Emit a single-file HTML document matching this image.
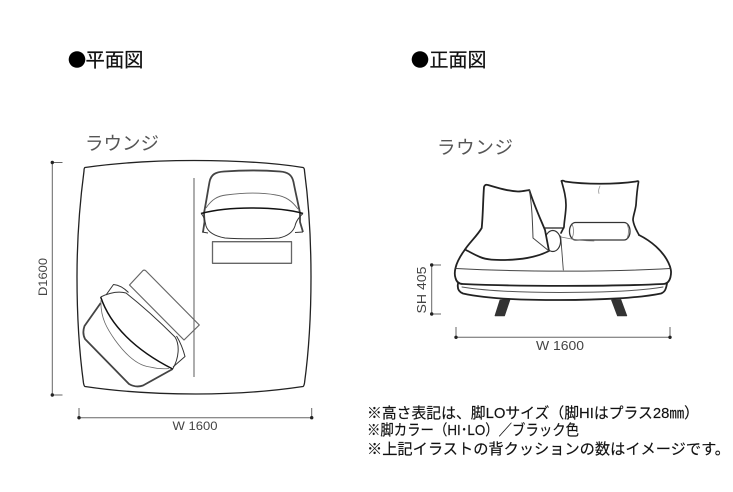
<!DOCTYPE html>
<html lang="ja"><head><meta charset="utf-8">
<style>
html,body{margin:0;padding:0;background:#fff;width:733px;height:492px;overflow:hidden}
svg{display:block;filter:blur(0.35px)}
text{font-family:"Liberation Sans","Noto Sans CJK JP",sans-serif}
</style></head><body>
<svg width="733" height="492" viewBox="0 0 733 492" xmlns="http://www.w3.org/2000/svg">
<!-- headings -->
<circle cx="77" cy="59.5" r="8.3" fill="#000"/>
<text x="85.5" y="66.5" font-size="19.5" fill="#111" stroke="#111" stroke-width="0.25" textLength="58" lengthAdjust="spacingAndGlyphs">平面図</text>
<circle cx="420" cy="59.5" r="8.3" fill="#000"/>
<text x="429.5" y="66.5" font-size="19.5" fill="#111" stroke="#111" stroke-width="0.25" textLength="57" lengthAdjust="spacingAndGlyphs">正面図</text>
<text x="85" y="150" font-size="18.5" fill="#555" textLength="74" lengthAdjust="spacing">ラウンジ</text>
<text x="437" y="154" font-size="18.5" fill="#555" textLength="76" lengthAdjust="spacing">ラウンジ</text>

<!-- plan: table -->
<g fill="none" stroke="#222" stroke-width="1.3" stroke-linejoin="round">
<path d="M85 167.5 C120 162.5 160 160.5 194 160.5 C235 160.5 275 163 303 167.5 Q304.5 168 304.5 171 C309 205 311 240 311 277 C311 315 309 350 304.5 383 Q304 386 303 386.5 C270 391.5 235 394 196 394 C155 394 115 391 85 386.5 Q84 386 83.5 383 C79 350 77 315 77 277 C77 240 79.5 205 84 171 Q84 168 85 167.5Z"/>
</g>
<line x1="194" y1="178" x2="194" y2="377" stroke="#777" stroke-width="1.2"/>

<!-- plan: top chair -->
<g fill="none" stroke="#333" stroke-linejoin="round">
<path d="M203 232 L204.5 222 L204 213 C206 203 208 190 209.5 182 C211 174 216 172 224 171.5 C245 170 262 170 280 171.5 C288 172 292 175 293.5 182 C295 190 298 203 300 213 L300 222 L303 232" stroke-width="1.8" stroke="#444"/>
<path d="M206 208 C212 199 218 196 226 195 C245 192.5 262 192.5 276 195 C286 196.5 292 201 298 209" stroke="#666" stroke-width="0.9"/>
<path d="M201 213.5 C218 209 235 208 251 208 C270 208 288 209 303 213.5" stroke="#111" stroke-width="1.5"/>
<path d="M201 213.5 C204 216 205 221 206 226 C208 232 214 236 225 238 C240 239 265 239 279 238 C288 236 293 232 295 226 C296 221 300 216 303 213.5" stroke-width="1"/>
<path d="M202 232 L208 233 M303 232 L295 232.5" stroke-width="1"/>
<rect x="212.5" y="241.7" width="79" height="21.6" stroke="#666" stroke-width="1.3"/>
</g>

<!-- plan: rotated chair -->
<g fill="none" stroke="#333" stroke-linejoin="round">
<path d="M129.5 285 L143 270.5 Q144.5 269.5 146 271 L199.3 325 L184 340 Z" stroke="#666" stroke-width="1.2"/>
<path d="M100.7 303 L84.5 326 Q82 333 85 339 L129 384 Q136 388 143 385.5 L172.7 369" stroke="#444" stroke-width="1.8"/>
<path d="M100.7 297 C110 325 135 350 172.7 369" stroke="#111" stroke-width="1.5"/>
<path d="M100.7 297 C109 293 118 291 126 293 C145 308 160 322 175 337 C180 345 179 358 172.7 369" stroke-width="1"/>
<path d="M106 295 L113.5 284.5 C119 285 124 288 128.5 292.5" stroke-width="1"/>
<path d="M176.5 336 Q182 345 185 356.5 L173 367" stroke-width="1"/>
<path d="M101 300 C100 318 108 330 115 340 C128 358 140 366 150 367 C158 369 164 369 169 368.5" stroke="#666" stroke-width="0.8"/>
</g>

<!-- plan dimensions -->
<g fill="none" stroke="#666" stroke-width="1">
<path d="M52.3 162.5 V395 M52.3 162.5 H62.5 M52.3 395 H62.5"/>
<path d="M79 417.7 H311.7 M79 408 V417.7 M311.7 408 V417.7"/>
</g>
<g fill="#222"><circle cx="52.3" cy="162.5" r="1.7"/><circle cx="52.3" cy="395" r="1.7"/><circle cx="79" cy="417.7" r="1.7"/><circle cx="311.7" cy="417.7" r="1.7"/></g>
<text x="195" y="430" font-size="12" fill="#444" text-anchor="middle" textLength="45" lengthAdjust="spacingAndGlyphs">W 1600</text>
<text transform="translate(47 277) rotate(-90)" font-size="12" fill="#444" text-anchor="middle" textLength="38" lengthAdjust="spacingAndGlyphs">D1600</text>

<!-- front view -->
<g fill="none" stroke="#222" stroke-linejoin="round" stroke-linecap="round">
<!-- legs -->
<path d="M500 300 L510 299.5 L504.5 315.8 L495 315.8Z" fill="#333" stroke="#333" stroke-width="0.8"/>
<path d="M611.5 300 L620.8 299.5 L626.8 315.8 L617.5 315.8Z" fill="#333" stroke="#333" stroke-width="0.8"/>
<!-- base -->
<path d="M458 283.5 C457 289 459 292 463 293.5 C490 299.5 530 300 560 300 C600 300 640 298 661 293.5 C665 292 666 289 667 283.5" stroke-width="1.8" fill="#fff"/>
<path d="M462 287 C490 291.5 530 292.5 560 292.5 C600 292.5 640 291 663 287" stroke="#555" stroke-width="1"/>
<!-- right cushion -->
<path d="M561.5 181 Q563 180 565 181.5 C585 184.5 615 184.5 636 181.5 Q638.5 180.5 638.5 182 C637 190 636.5 197 636 205 C635 212 633 216 633 220 C634 227 637 231 639 235" stroke-width="1.7"/>
<path d="M561.5 181 C564 190 566 197 566 205 C566 213 564 222 564 227 L561 233" stroke-width="1.7"/>
<path d="M600 186 Q598 190 599 193.5" stroke="#888" stroke-width="0.7"/>
<!-- seat -->
<path d="M465 249.5 C461 255 457 261 455.5 268 C454.5 272 454.5 275 455.5 278 C456.5 282 459 284 463 284 C520 286.5 610 286.5 663 284 C667 284 669.5 281 670.5 277 C671.5 272 671 270 670 266.5 C667 258 662 252 656 246.5 C651 242 645 238 639 235" stroke-width="1.8"/>
<path d="M456 268.5 C520 272 610 272 670 268.5" stroke="#444" stroke-width="1"/>
<path d="M545 228 L564 228" stroke-width="1.2"/>
<path d="M560.7 236 L563.3 270" stroke="#444" stroke-width="0.9"/>
<!-- roll -->
<rect x="569.5" y="222.5" width="60.5" height="17.5" rx="6" ry="8.5" stroke="#333" stroke-width="1.3" fill="#fff"/>
<path d="M572 223.5 Q575 231 572 239 M627 223.5 Q630 231 627 239" stroke="#666" stroke-width="0.7"/>
<path d="M561 237 Q580 241 594 241" stroke="#777" stroke-width="0.8"/>
<!-- left roll -->
<ellipse cx="552.8" cy="241" rx="7.8" ry="10.5" stroke="#333" stroke-width="1.2" fill="#fff"/>
<!-- left cushion -->
<path d="M465 249.5 C470 242 477 236 481.7 228 C483 215 483 200 484 187 Q485 184 488 185 C498 188 508 191 518 191.5 C522 191.5 526 190.5 529.3 190 C534 205 540 218 545 230 L549 251 C535 258 520 259.5 505 260 C495 260 487 260 480 257 C475 255 470 252 465 249.5 Z" stroke-width="1.8" fill="#fff"/>
<path d="M529.3 190 C532 205 532.5 222 533 238 L549 251" stroke="#444" stroke-width="1"/>
</g>
<!-- front dimensions -->
<g fill="none" stroke="#666" stroke-width="1">
<path d="M431.7 265 V314 M431.7 265 H441 M431.7 314 H441"/>
<path d="M456 337.3 H670 M456 327 V337.3 M670 327 V337.3"/>
</g>
<g fill="#222"><circle cx="431.7" cy="265" r="1.7"/><circle cx="431.7" cy="314" r="1.7"/><circle cx="456" cy="337.3" r="1.7"/><circle cx="670" cy="337.3" r="1.7"/></g>
<text x="560" y="350" font-size="12.5" fill="#444" text-anchor="middle" textLength="48" lengthAdjust="spacingAndGlyphs">W 1600</text>
<text transform="translate(426 290) rotate(-90)" font-size="13" fill="#444" text-anchor="middle" textLength="47" lengthAdjust="spacingAndGlyphs">SH 405</text>

<!-- notes -->
<g font-size="15" fill="#111" stroke="#111" stroke-width="0.15">
<text x="367" y="418" textLength="332" lengthAdjust="spacingAndGlyphs">※高さ表記は、脚LOサイズ（脚HIはプラス28㎜）</text>
<text x="367" y="435" textLength="212" lengthAdjust="spacingAndGlyphs">※脚カラー（HI･LO）／ブラック色</text>
<text x="367" y="454" textLength="363" lengthAdjust="spacingAndGlyphs">※上記イラストの背クッションの数はイメージです。</text>
</g>
</svg>
</body></html>
